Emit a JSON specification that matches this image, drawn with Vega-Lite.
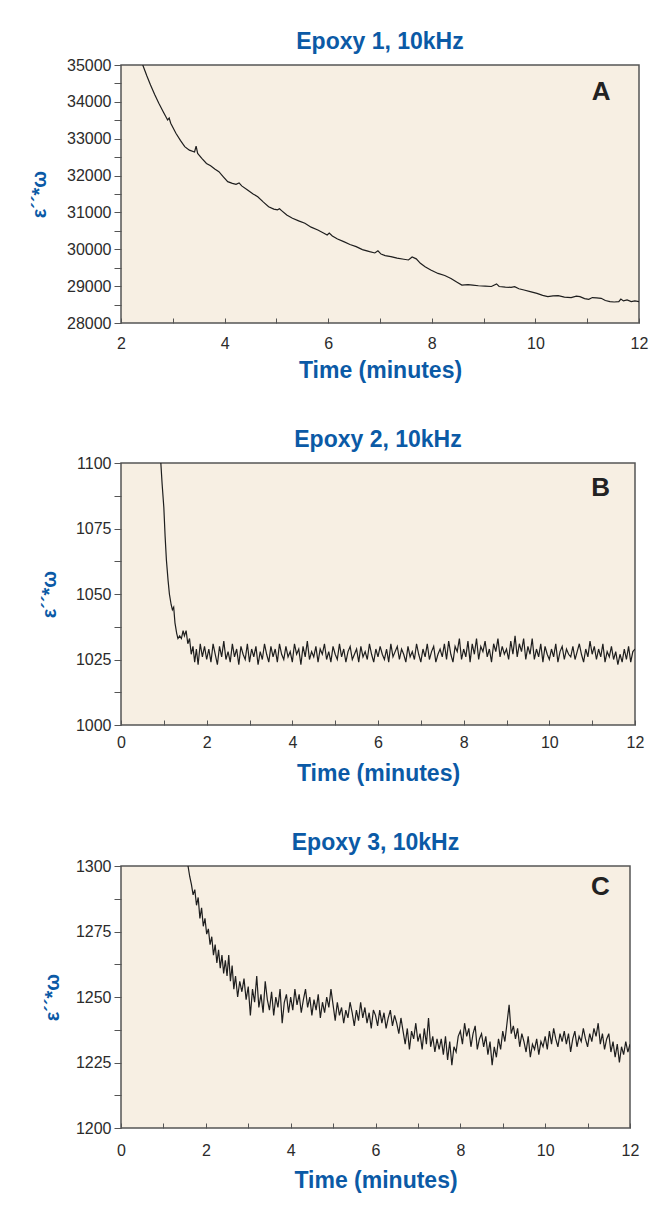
{
  "$schema": "https://vega.github.io/schema/vega-lite/v6.json",
  "padding": {"left": 28, "top": 30, "right": 10, "bottom": 10},
  "background": "white",
  "spacing": 45,
  "config": {
    "font": "Liberation Sans",
    "view": {"fill": "#F7EFE3", "stroke": "#555555", "strokeWidth": 1.5},
    "title": {"font": "Liberation Sans", "fontSize": 23, "fontWeight": "bold", "color": "#0b5aa6", "frame": "group", "anchor": "middle", "baseline": "alphabetic", "offset": 3},
    "axis": {"labelFont": "Liberation Sans", "labelFontSize": 16, "labelColor": "#2b2b2b", "tickColor": "#555555", "domain": false, "grid": false, "labelOverlap": false, "labelFlush": false, "tickCount": 30, "titleFont": "Liberation Sans", "titleFontSize": 23, "titleFontWeight": "bold", "titleColor": "#0b5aa6"}
  },
  "datasets": {
    "a": [
      {"t": 2.42, "v": 35000}, {"t": 2.5, "v": 34700}, {"t": 2.57, "v": 34457}, {"t": 2.65, "v": 34200}, {"t": 2.73, "v": 33960}, {"t": 2.82, "v": 33720}, {"t": 2.9, "v": 33508}, {"t": 2.93, "v": 33560}, {"t": 2.96, "v": 33420}, {"t": 3.06, "v": 33147}, {"t": 3.15, "v": 32950}, {"t": 3.23, "v": 32784}, {"t": 3.32, "v": 32690}, {"t": 3.42, "v": 32640}, {"t": 3.45, "v": 32800}, {"t": 3.48, "v": 32600}, {"t": 3.56, "v": 32468}, {"t": 3.65, "v": 32330}, {"t": 3.73, "v": 32268}, {"t": 3.81, "v": 32180}, {"t": 3.89, "v": 32105}, {"t": 3.98, "v": 31960}, {"t": 4.06, "v": 31834}, {"t": 4.15, "v": 31790}, {"t": 4.22, "v": 31760}, {"t": 4.28, "v": 31800}, {"t": 4.33, "v": 31720}, {"t": 4.45, "v": 31600}, {"t": 4.55, "v": 31500}, {"t": 4.64, "v": 31427}, {"t": 4.75, "v": 31280}, {"t": 4.85, "v": 31156}, {"t": 4.95, "v": 31090}, {"t": 5.02, "v": 31070}, {"t": 5.06, "v": 31100}, {"t": 5.1, "v": 31050}, {"t": 5.2, "v": 30930}, {"t": 5.31, "v": 30840}, {"t": 5.43, "v": 30770}, {"t": 5.55, "v": 30705}, {"t": 5.67, "v": 30600}, {"t": 5.8, "v": 30523}, {"t": 5.9, "v": 30450}, {"t": 5.98, "v": 30390}, {"t": 6.02, "v": 30440}, {"t": 6.08, "v": 30360}, {"t": 6.18, "v": 30280}, {"t": 6.3, "v": 30207}, {"t": 6.42, "v": 30130}, {"t": 6.54, "v": 30071}, {"t": 6.66, "v": 29990}, {"t": 6.8, "v": 29935}, {"t": 6.9, "v": 29900}, {"t": 6.96, "v": 29960}, {"t": 7.02, "v": 29870}, {"t": 7.1, "v": 29830}, {"t": 7.21, "v": 29800}, {"t": 7.33, "v": 29760}, {"t": 7.46, "v": 29730}, {"t": 7.55, "v": 29710}, {"t": 7.62, "v": 29790}, {"t": 7.7, "v": 29740}, {"t": 7.78, "v": 29620}, {"t": 7.87, "v": 29526}, {"t": 7.98, "v": 29440}, {"t": 8.12, "v": 29345}, {"t": 8.25, "v": 29290}, {"t": 8.37, "v": 29210}, {"t": 8.48, "v": 29110}, {"t": 8.58, "v": 29030}, {"t": 8.7, "v": 29040}, {"t": 8.79, "v": 29030}, {"t": 8.9, "v": 29010}, {"t": 9.03, "v": 29000}, {"t": 9.15, "v": 28990}, {"t": 9.25, "v": 29060}, {"t": 9.3, "v": 28990}, {"t": 9.42, "v": 28975}, {"t": 9.53, "v": 28966}, {"t": 9.6, "v": 28985}, {"t": 9.68, "v": 28930}, {"t": 9.78, "v": 28895}, {"t": 9.9, "v": 28850}, {"t": 10.03, "v": 28805}, {"t": 10.14, "v": 28750}, {"t": 10.24, "v": 28714}, {"t": 10.34, "v": 28735}, {"t": 10.44, "v": 28741}, {"t": 10.56, "v": 28700}, {"t": 10.69, "v": 28687}, {"t": 10.79, "v": 28730}, {"t": 10.86, "v": 28714}, {"t": 10.95, "v": 28660}, {"t": 11.03, "v": 28643}, {"t": 11.1, "v": 28690}, {"t": 11.18, "v": 28680}, {"t": 11.27, "v": 28670}, {"t": 11.35, "v": 28610}, {"t": 11.44, "v": 28580}, {"t": 11.52, "v": 28570}, {"t": 11.61, "v": 28580}, {"t": 11.65, "v": 28650}, {"t": 11.7, "v": 28600}, {"t": 11.77, "v": 28625}, {"t": 11.85, "v": 28580}, {"t": 11.92, "v": 28600}, {"t": 12.0, "v": 28580}
    ],
    "b": [
      {"t": 0.93, "v": 1100}, {"t": 0.96, "v": 1092}, {"t": 1.0, "v": 1083}, {"t": 1.03, "v": 1072}, {"t": 1.06, "v": 1063}, {"t": 1.1, "v": 1055}, {"t": 1.13, "v": 1050}, {"t": 1.17, "v": 1046}, {"t": 1.2, "v": 1044}, {"t": 1.23, "v": 1045}, {"t": 1.26, "v": 1039}, {"t": 1.3, "v": 1035}, {"t": 1.33, "v": 1033}, {"t": 1.37, "v": 1034}, {"t": 1.41, "v": 1033}, {"t": 1.45, "v": 1036}, {"t": 1.48, "v": 1034}, {"t": 1.52, "v": 1036}, {"t": 1.56, "v": 1031}, {"t": 1.6, "v": 1033}, {"t": 1.64, "v": 1027}, {"t": 1.68, "v": 1030}, {"t": 1.72, "v": 1024}, {"t": 1.76, "v": 1029}, {"t": 1.8, "v": 1023}, {"t": 1.85, "v": 1031}, {"t": 1.9, "v": 1026}, {"t": 1.95, "v": 1030},
      {"t": 2.0, "v": 1025}, {"t": 2.05, "v": 1029}, {"t": 2.1, "v": 1024}, {"t": 2.15, "v": 1031}, {"t": 2.2, "v": 1027}, {"t": 2.25, "v": 1023}, {"t": 2.3, "v": 1030}, {"t": 2.35, "v": 1026}, {"t": 2.4, "v": 1032}, {"t": 2.45, "v": 1025},
      {"t": 2.5, "v": 1028}, {"t": 2.55, "v": 1024}, {"t": 2.6, "v": 1031}, {"t": 2.65, "v": 1026}, {"t": 2.7, "v": 1029}, {"t": 2.75, "v": 1023}, {"t": 2.8, "v": 1030}, {"t": 2.85, "v": 1027}, {"t": 2.9, "v": 1025}, {"t": 2.95, "v": 1031},
      {"t": 3.0, "v": 1024}, {"t": 3.05, "v": 1029}, {"t": 3.1, "v": 1026}, {"t": 3.15, "v": 1030}, {"t": 3.2, "v": 1023}, {"t": 3.25, "v": 1028}, {"t": 3.3, "v": 1025}, {"t": 3.35, "v": 1031}, {"t": 3.4, "v": 1027}, {"t": 3.45, "v": 1024},
      {"t": 3.5, "v": 1030}, {"t": 3.55, "v": 1026}, {"t": 3.6, "v": 1029}, {"t": 3.65, "v": 1024}, {"t": 3.7, "v": 1031}, {"t": 3.75, "v": 1027}, {"t": 3.8, "v": 1025}, {"t": 3.85, "v": 1030}, {"t": 3.9, "v": 1026}, {"t": 3.95, "v": 1028},
      {"t": 4.0, "v": 1024}, {"t": 4.05, "v": 1031}, {"t": 4.1, "v": 1027}, {"t": 4.15, "v": 1029}, {"t": 4.2, "v": 1023}, {"t": 4.25, "v": 1030}, {"t": 4.3, "v": 1026}, {"t": 4.35, "v": 1032}, {"t": 4.4, "v": 1025}, {"t": 4.45, "v": 1028},
      {"t": 4.5, "v": 1026}, {"t": 4.55, "v": 1030}, {"t": 4.6, "v": 1024}, {"t": 4.65, "v": 1029}, {"t": 4.7, "v": 1027}, {"t": 4.75, "v": 1031}, {"t": 4.8, "v": 1025}, {"t": 4.85, "v": 1028}, {"t": 4.9, "v": 1024}, {"t": 4.95, "v": 1030},
      {"t": 5.0, "v": 1027}, {"t": 5.05, "v": 1025}, {"t": 5.1, "v": 1031}, {"t": 5.15, "v": 1026}, {"t": 5.2, "v": 1029}, {"t": 5.25, "v": 1024}, {"t": 5.3, "v": 1028}, {"t": 5.35, "v": 1030}, {"t": 5.4, "v": 1025}, {"t": 5.45, "v": 1027},
      {"t": 5.5, "v": 1029}, {"t": 5.55, "v": 1024}, {"t": 5.6, "v": 1030}, {"t": 5.65, "v": 1026}, {"t": 5.7, "v": 1028}, {"t": 5.75, "v": 1025}, {"t": 5.8, "v": 1031}, {"t": 5.85, "v": 1027}, {"t": 5.9, "v": 1024}, {"t": 5.95, "v": 1029},
      {"t": 6.0, "v": 1026}, {"t": 6.05, "v": 1030}, {"t": 6.1, "v": 1027}, {"t": 6.15, "v": 1025}, {"t": 6.2, "v": 1029}, {"t": 6.25, "v": 1024}, {"t": 6.3, "v": 1031}, {"t": 6.35, "v": 1026}, {"t": 6.4, "v": 1028}, {"t": 6.45, "v": 1030},
      {"t": 6.5, "v": 1025}, {"t": 6.55, "v": 1029}, {"t": 6.6, "v": 1027}, {"t": 6.65, "v": 1024}, {"t": 6.7, "v": 1030}, {"t": 6.75, "v": 1026}, {"t": 6.8, "v": 1028}, {"t": 6.85, "v": 1025}, {"t": 6.9, "v": 1031}, {"t": 6.95, "v": 1027},
      {"t": 7.0, "v": 1024}, {"t": 7.05, "v": 1029}, {"t": 7.1, "v": 1026}, {"t": 7.15, "v": 1031}, {"t": 7.2, "v": 1025}, {"t": 7.25, "v": 1028}, {"t": 7.3, "v": 1030}, {"t": 7.35, "v": 1024}, {"t": 7.4, "v": 1027}, {"t": 7.45, "v": 1029},
      {"t": 7.5, "v": 1026}, {"t": 7.55, "v": 1031}, {"t": 7.6, "v": 1025}, {"t": 7.65, "v": 1032}, {"t": 7.7, "v": 1027}, {"t": 7.75, "v": 1024}, {"t": 7.8, "v": 1030}, {"t": 7.85, "v": 1028}, {"t": 7.9, "v": 1033}, {"t": 7.95, "v": 1025},
      {"t": 8.0, "v": 1029}, {"t": 8.05, "v": 1026}, {"t": 8.1, "v": 1032}, {"t": 8.15, "v": 1024}, {"t": 8.2, "v": 1031}, {"t": 8.25, "v": 1027}, {"t": 8.3, "v": 1033}, {"t": 8.35, "v": 1025}, {"t": 8.4, "v": 1030}, {"t": 8.45, "v": 1028},
      {"t": 8.5, "v": 1032}, {"t": 8.55, "v": 1026}, {"t": 8.6, "v": 1029}, {"t": 8.65, "v": 1024}, {"t": 8.7, "v": 1031}, {"t": 8.75, "v": 1028}, {"t": 8.8, "v": 1033}, {"t": 8.85, "v": 1026}, {"t": 8.9, "v": 1030}, {"t": 8.95, "v": 1027},
      {"t": 9.0, "v": 1029}, {"t": 9.05, "v": 1025}, {"t": 9.1, "v": 1032}, {"t": 9.15, "v": 1027}, {"t": 9.2, "v": 1034}, {"t": 9.25, "v": 1026}, {"t": 9.3, "v": 1031}, {"t": 9.35, "v": 1028}, {"t": 9.4, "v": 1033}, {"t": 9.45, "v": 1025},
      {"t": 9.5, "v": 1030}, {"t": 9.55, "v": 1027}, {"t": 9.6, "v": 1033}, {"t": 9.65, "v": 1025}, {"t": 9.7, "v": 1029}, {"t": 9.75, "v": 1026}, {"t": 9.8, "v": 1031}, {"t": 9.85, "v": 1024}, {"t": 9.9, "v": 1030}, {"t": 9.95, "v": 1027},
      {"t": 10.0, "v": 1025}, {"t": 10.05, "v": 1029}, {"t": 10.1, "v": 1026}, {"t": 10.15, "v": 1031}, {"t": 10.2, "v": 1024}, {"t": 10.25, "v": 1028}, {"t": 10.3, "v": 1030}, {"t": 10.35, "v": 1025}, {"t": 10.4, "v": 1029}, {"t": 10.45, "v": 1027},
      {"t": 10.5, "v": 1026}, {"t": 10.55, "v": 1030}, {"t": 10.6, "v": 1025}, {"t": 10.65, "v": 1028}, {"t": 10.7, "v": 1031}, {"t": 10.75, "v": 1027}, {"t": 10.8, "v": 1024}, {"t": 10.85, "v": 1029}, {"t": 10.9, "v": 1026}, {"t": 10.95, "v": 1032},
      {"t": 11.0, "v": 1027}, {"t": 11.05, "v": 1030}, {"t": 11.1, "v": 1025}, {"t": 11.15, "v": 1029}, {"t": 11.2, "v": 1026}, {"t": 11.25, "v": 1031}, {"t": 11.3, "v": 1024}, {"t": 11.35, "v": 1028}, {"t": 11.4, "v": 1026}, {"t": 11.45, "v": 1030},
      {"t": 11.5, "v": 1025}, {"t": 11.55, "v": 1028}, {"t": 11.6, "v": 1023}, {"t": 11.65, "v": 1027}, {"t": 11.7, "v": 1024}, {"t": 11.75, "v": 1029}, {"t": 11.8, "v": 1025}, {"t": 11.85, "v": 1030}, {"t": 11.9, "v": 1024}, {"t": 11.95, "v": 1028},
      {"t": 12.0, "v": 1029}
    ],
    "c": [
      {"t": 1.58, "v": 1300}, {"t": 1.62, "v": 1296}, {"t": 1.66, "v": 1293}, {"t": 1.7, "v": 1289}, {"t": 1.74, "v": 1291}, {"t": 1.78, "v": 1285}, {"t": 1.82, "v": 1288}, {"t": 1.86, "v": 1280}, {"t": 1.9, "v": 1284}, {"t": 1.94, "v": 1277}, {"t": 1.98, "v": 1280}, {"t": 2.02, "v": 1274}, {"t": 2.06, "v": 1276}, {"t": 2.1, "v": 1270}, {"t": 2.14, "v": 1273}, {"t": 2.18, "v": 1266}, {"t": 2.22, "v": 1270}, {"t": 2.26, "v": 1263}, {"t": 2.3, "v": 1268}, {"t": 2.34, "v": 1261}, {"t": 2.38, "v": 1266}, {"t": 2.42, "v": 1259}, {"t": 2.46, "v": 1264}, {"t": 2.5, "v": 1258}, {"t": 2.54, "v": 1266}, {"t": 2.58, "v": 1256}, {"t": 2.62, "v": 1262}, {"t": 2.66, "v": 1253}, {"t": 2.7, "v": 1258}, {"t": 2.75, "v": 1250}, {"t": 2.8, "v": 1256}, {"t": 2.85, "v": 1252}, {"t": 2.9, "v": 1257}, {"t": 2.95, "v": 1249},
      {"t": 3.0, "v": 1254}, {"t": 3.05, "v": 1243}, {"t": 3.1, "v": 1253}, {"t": 3.15, "v": 1248}, {"t": 3.2, "v": 1258}, {"t": 3.25, "v": 1246}, {"t": 3.3, "v": 1251}, {"t": 3.35, "v": 1244}, {"t": 3.4, "v": 1256}, {"t": 3.45, "v": 1249},
      {"t": 3.5, "v": 1245}, {"t": 3.55, "v": 1252}, {"t": 3.6, "v": 1243}, {"t": 3.65, "v": 1250}, {"t": 3.7, "v": 1246}, {"t": 3.75, "v": 1253}, {"t": 3.8, "v": 1240}, {"t": 3.85, "v": 1248}, {"t": 3.9, "v": 1251}, {"t": 3.95, "v": 1244},
      {"t": 4.0, "v": 1250}, {"t": 4.05, "v": 1245}, {"t": 4.1, "v": 1253}, {"t": 4.15, "v": 1247}, {"t": 4.2, "v": 1251}, {"t": 4.25, "v": 1244}, {"t": 4.3, "v": 1249}, {"t": 4.35, "v": 1253}, {"t": 4.4, "v": 1246}, {"t": 4.45, "v": 1250},
      {"t": 4.5, "v": 1243}, {"t": 4.55, "v": 1249}, {"t": 4.6, "v": 1245}, {"t": 4.65, "v": 1251}, {"t": 4.7, "v": 1242}, {"t": 4.75, "v": 1248}, {"t": 4.8, "v": 1244}, {"t": 4.85, "v": 1250}, {"t": 4.9, "v": 1246}, {"t": 4.95, "v": 1253},
      {"t": 5.0, "v": 1247}, {"t": 5.05, "v": 1241}, {"t": 5.1, "v": 1248}, {"t": 5.15, "v": 1243}, {"t": 5.2, "v": 1246}, {"t": 5.25, "v": 1240}, {"t": 5.3, "v": 1245}, {"t": 5.35, "v": 1242}, {"t": 5.4, "v": 1248}, {"t": 5.45, "v": 1244},
      {"t": 5.5, "v": 1239}, {"t": 5.55, "v": 1245}, {"t": 5.6, "v": 1241}, {"t": 5.65, "v": 1248}, {"t": 5.7, "v": 1242}, {"t": 5.75, "v": 1246}, {"t": 5.8, "v": 1240}, {"t": 5.85, "v": 1244}, {"t": 5.9, "v": 1238}, {"t": 5.95, "v": 1245},
      {"t": 6.0, "v": 1243}, {"t": 6.05, "v": 1239}, {"t": 6.1, "v": 1245}, {"t": 6.15, "v": 1240}, {"t": 6.2, "v": 1244}, {"t": 6.25, "v": 1238}, {"t": 6.3, "v": 1242}, {"t": 6.35, "v": 1245}, {"t": 6.4, "v": 1239}, {"t": 6.45, "v": 1243},
      {"t": 6.5, "v": 1240}, {"t": 6.55, "v": 1236}, {"t": 6.6, "v": 1242}, {"t": 6.65, "v": 1237}, {"t": 6.7, "v": 1232}, {"t": 6.75, "v": 1238}, {"t": 6.8, "v": 1230}, {"t": 6.85, "v": 1237}, {"t": 6.9, "v": 1234}, {"t": 6.95, "v": 1240},
      {"t": 7.0, "v": 1233}, {"t": 7.05, "v": 1236}, {"t": 7.1, "v": 1230}, {"t": 7.15, "v": 1238}, {"t": 7.2, "v": 1232}, {"t": 7.25, "v": 1242}, {"t": 7.3, "v": 1231}, {"t": 7.35, "v": 1235}, {"t": 7.4, "v": 1229}, {"t": 7.45, "v": 1234},
      {"t": 7.5, "v": 1230}, {"t": 7.55, "v": 1234}, {"t": 7.6, "v": 1228}, {"t": 7.65, "v": 1235}, {"t": 7.7, "v": 1226}, {"t": 7.75, "v": 1233}, {"t": 7.8, "v": 1224}, {"t": 7.85, "v": 1231}, {"t": 7.9, "v": 1229}, {"t": 7.95, "v": 1235},
      {"t": 8.0, "v": 1237}, {"t": 8.05, "v": 1232}, {"t": 8.1, "v": 1240}, {"t": 8.15, "v": 1235}, {"t": 8.2, "v": 1238}, {"t": 8.25, "v": 1231}, {"t": 8.3, "v": 1236}, {"t": 8.35, "v": 1239}, {"t": 8.4, "v": 1230}, {"t": 8.45, "v": 1234},
      {"t": 8.5, "v": 1236}, {"t": 8.55, "v": 1231}, {"t": 8.6, "v": 1235}, {"t": 8.65, "v": 1228}, {"t": 8.7, "v": 1233}, {"t": 8.75, "v": 1224}, {"t": 8.8, "v": 1231}, {"t": 8.85, "v": 1227}, {"t": 8.9, "v": 1234}, {"t": 8.95, "v": 1230},
      {"t": 9.0, "v": 1237}, {"t": 9.05, "v": 1233}, {"t": 9.1, "v": 1240}, {"t": 9.15, "v": 1247}, {"t": 9.2, "v": 1236}, {"t": 9.25, "v": 1239}, {"t": 9.3, "v": 1234}, {"t": 9.35, "v": 1238}, {"t": 9.4, "v": 1231}, {"t": 9.45, "v": 1236},
      {"t": 9.5, "v": 1233}, {"t": 9.55, "v": 1229}, {"t": 9.6, "v": 1235}, {"t": 9.65, "v": 1227}, {"t": 9.7, "v": 1232}, {"t": 9.75, "v": 1230}, {"t": 9.8, "v": 1234}, {"t": 9.85, "v": 1228}, {"t": 9.9, "v": 1233}, {"t": 9.95, "v": 1231},
      {"t": 10.0, "v": 1235}, {"t": 10.05, "v": 1230}, {"t": 10.1, "v": 1237}, {"t": 10.15, "v": 1232}, {"t": 10.2, "v": 1238}, {"t": 10.25, "v": 1234}, {"t": 10.3, "v": 1231}, {"t": 10.35, "v": 1236}, {"t": 10.4, "v": 1233}, {"t": 10.45, "v": 1237},
      {"t": 10.5, "v": 1232}, {"t": 10.55, "v": 1236}, {"t": 10.6, "v": 1229}, {"t": 10.65, "v": 1234}, {"t": 10.7, "v": 1237}, {"t": 10.75, "v": 1231}, {"t": 10.8, "v": 1235}, {"t": 10.85, "v": 1233}, {"t": 10.9, "v": 1238}, {"t": 10.95, "v": 1234},
      {"t": 11.0, "v": 1231}, {"t": 11.05, "v": 1236}, {"t": 11.1, "v": 1233}, {"t": 11.15, "v": 1238}, {"t": 11.2, "v": 1235}, {"t": 11.25, "v": 1240}, {"t": 11.3, "v": 1232}, {"t": 11.35, "v": 1236}, {"t": 11.4, "v": 1230}, {"t": 11.45, "v": 1234},
      {"t": 11.5, "v": 1236}, {"t": 11.55, "v": 1229}, {"t": 11.6, "v": 1233}, {"t": 11.65, "v": 1227}, {"t": 11.7, "v": 1232}, {"t": 11.75, "v": 1225}, {"t": 11.8, "v": 1231}, {"t": 11.85, "v": 1228}, {"t": 11.9, "v": 1233}, {"t": 11.95, "v": 1229},
      {"t": 12.0, "v": 1232}
    ]
  },
  "vconcat": [
    {
      "width": 518,
      "height": 258,
      "title": {"text": "Epoxy 1, 10kHz"},
      "layer": [
        {
          "data": {"name": "a"},
          "mark": {"type": "line", "color": "#1e1e1e", "strokeWidth": 1.2, "clip": true},
          "encoding": {
            "x": {"field": "t", "type": "quantitative", "scale": {"domain": [2, 12], "nice": false, "zero": false},
              "axis": {"title": "Time (minutes)", "format": "d", "values": [2, 3, 4, 5, 6, 7, 8, 9, 10, 11, 12], "tickCount": 30, "labelExpr": "datum.value % 2 === 0 ? datum.label : ''", "labelFontSize": 16, "labelOverlap": false, "tickSize": -5, "labelPadding": 17, "titlePadding": 8}},
            "y": {"field": "v", "type": "quantitative", "scale": {"domain": [28000, 35000], "nice": false, "zero": false},
              "axis": {"title": "ε´´*ω", "titleFontSize": 20, "format": "d", "tickCount": 30, "values": [28000, 28500, 29000, 29500, 30000, 30500, 31000, 31500, 32000, 32500, 33000, 33500, 34000, 34500, 35000], "labelExpr": "datum.value % 1000 === 0 ? datum.label : ''", "labelFontSize": 16, "labelOverlap": false, "tickSize": 7, "labelPadding": 3, "titlePadding": 17}}
          }
        },
        {
          "data": {"values": [{"label": "A"}]},
          "mark": {"type": "text", "fontSize": 26, "fontWeight": "bold", "color": "#222222", "baseline": "middle", "align": "center"},
          "encoding": {"x": {"datum": 11.27}, "y": {"datum": 34267}, "text": {"field": "label"}}
        }
      ]
    },
    {
      "width": 514,
      "height": 262,
      "title": {"text": "Epoxy 2, 10kHz"},
      "layer": [
        {
          "data": {"name": "b"},
          "mark": {"type": "line", "color": "#1e1e1e", "strokeWidth": 1.2, "clip": true},
          "encoding": {
            "x": {"field": "t", "type": "quantitative", "scale": {"domain": [0, 12], "nice": false},
              "axis": {"title": "Time (minutes)", "format": "d", "values": [0, 1, 2, 3, 4, 5, 6, 7, 8, 9, 10, 11, 12], "tickCount": 30, "labelExpr": "datum.value % 2 === 0 ? datum.label : ''", "labelFontSize": 16, "labelOverlap": false, "tickSize": -5, "labelPadding": 14, "titlePadding": 12}},
            "y": {"field": "v", "type": "quantitative", "scale": {"domain": [1000, 1100], "nice": false, "zero": false},
              "axis": {"title": "ε´´*ω", "titleFontSize": 20, "format": "d", "tickCount": 30, "values": [1000, 1012.5, 1025, 1037.5, 1050, 1062.5, 1075, 1087.5, 1100], "labelExpr": "datum.value % 25 === 0 ? datum.label : ''", "labelFontSize": 16, "labelOverlap": false, "tickSize": 7, "labelPadding": 3, "titlePadding": 16}}
          }
        },
        {
          "data": {"values": [{"label": "B"}]},
          "mark": {"type": "text", "fontSize": 26, "fontWeight": "bold", "color": "#222222", "baseline": "middle", "align": "center"},
          "encoding": {"x": {"datum": 11.2}, "y": {"datum": 1090.5}, "text": {"field": "label"}}
        }
      ]
    },
    {
      "width": 509,
      "height": 262,
      "title": {"text": "Epoxy 3, 10kHz"},
      "layer": [
        {
          "data": {"name": "c"},
          "mark": {"type": "line", "color": "#1e1e1e", "strokeWidth": 1.2, "clip": true},
          "encoding": {
            "x": {"field": "t", "type": "quantitative", "scale": {"domain": [0, 12], "nice": false},
              "axis": {"title": "Time (minutes)", "format": "d", "values": [0, 1, 2, 3, 4, 5, 6, 7, 8, 9, 10, 11, 12], "tickCount": 30, "labelExpr": "datum.value % 2 === 0 ? datum.label : ''", "labelFontSize": 16, "labelOverlap": false, "tickSize": -5, "labelPadding": 19, "titlePadding": 11}},
            "y": {"field": "v", "type": "quantitative", "scale": {"domain": [1200, 1300], "nice": false, "zero": false},
              "axis": {"title": "ε´´*ω", "titleFontSize": 20, "format": "d", "tickCount": 30, "values": [1200, 1212.5, 1225, 1237.5, 1250, 1262.5, 1275, 1287.5, 1300], "labelExpr": "datum.value % 25 === 0 ? datum.label : ''", "labelFontSize": 16, "labelOverlap": false, "tickSize": 7, "labelPadding": 3, "titlePadding": 13}}
          }
        },
        {
          "data": {"values": [{"label": "C"}]},
          "mark": {"type": "text", "fontSize": 26, "fontWeight": "bold", "color": "#222222", "baseline": "middle", "align": "center"},
          "encoding": {"x": {"datum": 11.3}, "y": {"datum": 1292}, "text": {"field": "label"}}
        }
      ]
    }
  ]
}
